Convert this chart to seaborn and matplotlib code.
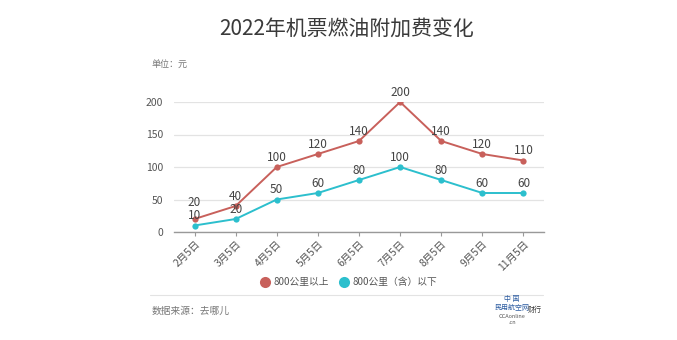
import matplotlib
matplotlib.use("Agg")
import matplotlib.pyplot as plt
import seaborn as sns
import pandas as pd
from matplotlib.lines import Line2D

categories = ["2月5日", "3月5日", "4月5日", "5月5日", "6月5日", "7月5日", "8月5日", "9月5日", "11月5日"]
above_800 = [20, 40, 100, 120, 140, 200, 140, 120, 110]
below_800 = [10, 20, 50, 60, 80, 100, 80, 60, 60]
series_names = ["800公里以上", "800公里（含）以下"]
yticks = [0, 50, 100, 150, 200]

red = "#c8605b"
cyan = "#2cbfcd"

sns.set_theme(style="white")
plt.rcParams['font.family'] = ['Noto Sans CJK SC', 'DejaVu Sans']

df = pd.DataFrame({
    "cat": categories * 2,
    "x": list(range(len(categories))) * 2,
    "value": above_800 + below_800,
    "series": [series_names[0]] * len(categories) + [series_names[1]] * len(categories),
})

fig = plt.figure(figsize=(6.77, 3.40), dpi=100)
ax = fig.add_axes([174 / 677, 1 - 232 / 340, (544 - 174) / 677, (232 - 102) / 340])

sns.lineplot(data=df, x="x", y="value", hue="series", palette=[red, cyan],
             marker="o", markersize=4.5, markeredgewidth=0, linewidth=1.4,
             ax=ax, legend=False)

for i in range(len(categories)):
    hi, lo = above_800[i], below_800[i]
    # nudge the upper label up when the two labels would collide
    extra = 5 if (hi - lo) < 15 else 0
    ax.annotate(str(hi), (i, hi), xytext=(0, 2.5 + extra), textcoords="offset points",
                ha="center", va="bottom", fontsize=8.5, color="#444444",
                annotation_clip=False)
    ax.annotate(str(lo), (i, lo), xytext=(0, 2.5), textcoords="offset points",
                ha="center", va="bottom", fontsize=8.5, color="#444444",
                annotation_clip=False)

ax.set_xlim(-0.5, len(categories) - 0.5)
ax.set_ylim(0, 200)
ax.set_yticks(yticks)
ax.set_yticklabels([str(t) for t in yticks], fontsize=7.5, color="#555555")
ax.set_xticks(range(len(categories)))
ax.set_xticklabels(categories, rotation=45, ha="right", rotation_mode="anchor",
                   fontsize=7.5, color="#555555")
ax.set_xlabel("")
ax.set_ylabel("")
ax.grid(axis="y", color="#e3e3e3", linewidth=0.9)
ax.set_axisbelow(True)
for s in ["top", "right", "left"]:
    ax.spines[s].set_visible(False)
ax.spines["bottom"].set_color("#999999")
ax.spines["bottom"].set_linewidth(1.0)
ax.tick_params(axis="x", length=3, width=0.8, color="#999999", bottom=True, pad=2)
ax.tick_params(axis="y", length=0, pad=8)

fig.text(347 / 677, 1 - 30 / 340, "2022年机票燃油附加费变化", ha="center", va="center",
         fontsize=15, color="#3a3a3a")
fig.text(152 / 677, 1 - 64 / 340, "单位：元", ha="left", va="center", fontsize=6.5, color="#777777")

handles = [Line2D([], [], marker="o", linestyle="none", markersize=8, color=red, markeredgewidth=0),
           Line2D([], [], marker="o", linestyle="none", markersize=8, color=cyan, markeredgewidth=0)]
fig.legend(handles, series_names, loc="center", bbox_to_anchor=(348 / 677, 1 - 282 / 340),
           ncol=2, frameon=False, fontsize=7, handletextpad=0.3, columnspacing=0.9,
           handlelength=1.2, labelcolor="#555555")

fig.add_artist(Line2D([150 / 677, 543 / 677], [1 - 295 / 340, 1 - 295 / 340],
                      color="#e3e3e3", linewidth=0.8))
fig.text(152 / 677, 1 - 311 / 340, "数据来源：去哪儿", ha="left", va="center",
         fontsize=7, color="#777777")

fig.text(512 / 677, 1 - 299 / 340, "中 国", ha="center", va="center", fontsize=5, color="#2a5aa0")
fig.text(512 / 677, 1 - 308 / 340, "民用航空网", ha="center", va="center", fontsize=5, color="#2a5aa0")
fig.text(512 / 677, 1 - 316 / 340, "CCAonline", ha="center", va="center", fontsize=4, color="#555555")
fig.text(512 / 677, 1 - 323 / 340, ".cn", ha="center", va="center", fontsize=4, color="#555555")
fig.text(535 / 677, 1 - 310 / 340, "财行", ha="center", va="center", fontsize=5, color="#333333")

fig.savefig("out.png", dpi=100, facecolor="white")
